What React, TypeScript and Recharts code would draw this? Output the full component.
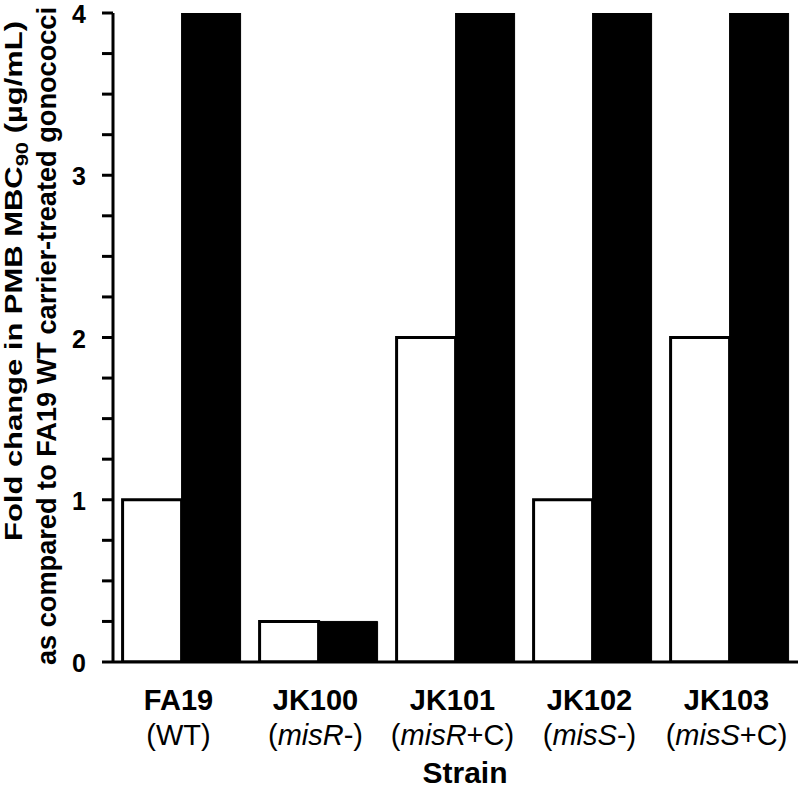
import React from 'react';
import { BarChart, Bar, XAxis, YAxis } from 'recharts';

const strains = ['FA19', 'JK100', 'JK101', 'JK102', 'JK103'];
const genes = ['', 'misR', 'misR', 'misS', 'misS'];
const geneSuffix = ['WT', '-', '+C', '-', '+C'];
const carrierTreated = [1, 0.25, 2, 1, 2];
const pmbTreated = [4, 0.25, 4, 4, 4];
const yTicks = [0, 0.25, 0.5, 0.75, 1, 1.25, 1.5, 1.75, 2, 2.25, 2.5, 2.75, 3, 3.25, 3.5, 3.75, 4];
const yTickLabels: Record<number, string> = { 0: '0', 1: '1', 2: '2', 3: '3', 4: '4' };
const xTitle = 'Strain';
const yTitle1 = 'Fold change in PMB MBC';
const yTitle1Sub = '90';
const yTitle1End = ' (µg/mL)';
const yTitle2 = 'as compared to FA19 WT carrier-treated gonococci';

const data = strains.map((s, i) => ({
  strain: s,
  gene: genes[i],
  suffix: geneSuffix[i],
  carrier: carrierTreated[i],
  pmb: pmbTreated[i],
}));

const FONT = '"Liberation Sans", Arial, Helvetica, sans-serif';

const XTick = (props: any) => {
  const { x, y, index } = props;
  const gene = genes[index];
  const suffix = geneSuffix[index];
  return (
    <g>
      <text x={x - 3} y={y + 48} textAnchor="middle" fontFamily={FONT} fontWeight="bold" fontSize={29} fill="#000">
        {strains[index]}
      </text>
      <text x={x - 3} y={y + 83} textAnchor="middle" fontFamily={FONT} fontSize={29} fill="#000">
        {'('}
        {gene ? <tspan fontStyle="italic">{gene}</tspan> : null}
        {suffix + ')'}
      </text>
    </g>
  );
};

const YTick = (props: any) => {
  const { x, y, payload } = props;
  const label = yTickLabels[payload.value];
  return (
    <g>
      <path d={`M${x + 14},${y}H${x + 25}`} stroke="#000" strokeWidth={3} fill="none" />
      {label ? (
        <text x={x - 2} y={y} dy={10} textAnchor="end" fontFamily={FONT} fontWeight="bold" fontSize={25} fill="#000">
          {label}
        </text>
      ) : null}
    </g>
  );
};

const YTitle = () => (
  <g fontFamily={FONT} fontWeight="bold" fill="#000">
    <text transform="translate(22,281) rotate(-90)" textAnchor="middle" fontSize={24} textLength={520} lengthAdjust="spacingAndGlyphs">
      {yTitle1}
      <tspan fontSize={17} dy={6}>{yTitle1Sub}</tspan>
      <tspan dy={-6}>{yTitle1End}</tspan>
    </text>
    <text transform="translate(56,336) rotate(-90)" textAnchor="middle" fontSize={27} textLength={658} lengthAdjust="spacingAndGlyphs">
      {yTitle2}
    </text>
  </g>
);

const XTitle = () => (
  <text x={465} y={783} textAnchor="middle" fontFamily={FONT} fontWeight="bold" fontSize={30} fill="#000">
    {xTitle}
  </text>
);

export default function App() {
  return (
    <div style={{ position: 'absolute', left: 0, top: 0, width: 800, height: 788, background: '#fff' }}>
      <BarChart
        width={800}
        height={788}
        data={data}
        margin={{ top: 13, right: 2, left: 0, bottom: 0 }}
        barCategoryGap="7%"
        barGap={0}
      >
        <XAxis
          dataKey="strain"
          axisLine={{ stroke: '#000', strokeWidth: 3 }}
          tickLine={false}
          tickSize={0}
          tickMargin={0}
          height={126}
          interval={0}
          tick={<XTick />}
          label={<XTitle />}
        />
        <YAxis
          domain={[0, 4]}
          ticks={yTicks}
          interval={0}
          width={113}
          axisLine={{ stroke: '#000', strokeWidth: 3 }}
          tickLine={false}
          tickSize={8}
          tickMargin={17}
          tick={<YTick />}
          allowDataOverflow
          label={<YTitle />}
        />
        <Bar dataKey="carrier" fill="#fff" stroke="#000" strokeWidth={3} isAnimationActive={false} />
        <Bar dataKey="pmb" fill="#000" stroke="#000" strokeWidth={1} isAnimationActive={false} />
      </BarChart>
    </div>
  );
}
